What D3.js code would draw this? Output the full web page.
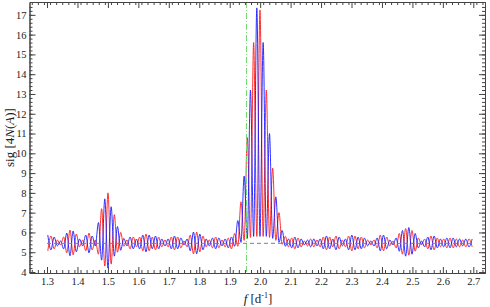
<!DOCTYPE html>
<html>
<head>
<meta charset="utf-8">
<script src="https://cdn.jsdelivr.net/npm/d3@7"></script>
<style>
  body { margin: 0; background: #fff; }
  svg { display: block; font-family: "Liberation Serif", "DejaVu Serif", serif; }
</style>
</head>
<body>
<script>
// extrema positions (frequency, d^-1)
const freqs = [
  1.3026,1.3130,1.3234,1.3338,1.3442,1.3546,1.3650,1.3754,1.3858,1.3962,
  1.4066,1.4170,1.4274,1.4378,1.4482,1.4586,1.4690,1.4794,1.4898,1.5002,
  1.5106,1.5210,1.5314,1.5418,1.5522,1.5626,1.5730,1.5834,1.5938,1.6042,
  1.6146,1.6250,1.6354,1.6458,1.6562,1.6666,1.6770,1.6874,1.6978,1.7082,
  1.7186,1.7290,1.7394,1.7498,1.7602,1.7706,1.7810,1.7914,1.8018,1.8122,
  1.8226,1.8330,1.8434,1.8538,1.8642,1.8746,1.8850,1.8954,1.9058,1.9162,
  1.9266,1.9370,1.9474,1.9578,1.9682,1.9786,1.9890,1.9994,2.0098,2.0202,
  2.0306,2.0410,2.0514,2.0618,2.0722,2.0826,2.0930,2.1034,2.1138,2.1242,
  2.1346,2.1450,2.1554,2.1658,2.1762,2.1866,2.1970,2.2074,2.2178,2.2282,
  2.2386,2.2490,2.2594,2.2698,2.2802,2.2906,2.3010,2.3114,2.3218,2.3322,
  2.3426,2.3530,2.3634,2.3738,2.3842,2.3946,2.4050,2.4154,2.4258,2.4362,
  2.4466,2.4570,2.4674,2.4778,2.4882,2.4986,2.5090,2.5194,2.5298,2.5402,
  2.5506,2.5610,2.5714,2.5818,2.5922,2.6026,2.6130,2.6234,2.6338,2.6442,
  2.6546,2.6650,2.6754,2.6858,2.6962
]

const redSig = [
  5.07,5.82,5.17,5.62,5.37,5.77,4.97,6.12,4.87,5.92,
  5.27,5.62,5.07,5.97,5.12,5.62,4.9,7.2,4.3,8.0,
  4.4,6.9,5.0,6.0,5.3,5.62,5.17,5.77,5.27,5.77,
  5.07,5.92,5.07,5.77,5.12,5.77,5.27,5.62,5.27,5.77,
  5.12,5.77,5.22,5.57,5.27,5.87,4.92,6.02,5.02,5.82,
  5.27,5.62,5.22,5.77,5.22,5.62,5.27,5.72,5.17,5.95,
  5.3,7.55,5.6,10.8,5.75,15.6,5.8,17.25,5.8,13.2,
  5.75,9.25,5.6,7.0,5.4,5.8,5.27,5.72,5.17,5.72,
  5.27,5.57,5.32,5.67,5.27,5.62,5.27,5.77,5.12,5.77,
  5.27,5.82,5.17,5.62,5.27,5.82,5.07,5.82,5.17,5.77,
  5.22,5.62,5.37,5.62,5.22,5.87,5.07,5.77,5.32,5.57,
  5.22,5.95,4.9,6.2,4.85,6.1,5.05,5.72,5.37,5.67,
  5.17,5.82,5.12,5.72,5.27,5.67,5.22,5.72,5.22,5.67,
  5.27,5.62,5.27,5.67,5.27
]

const blueSig = [
  5.87,5.12,5.77,5.32,5.57,5.17,5.97,4.82,6.07,5.02,
  5.67,5.32,5.87,4.97,5.82,5.32,6.5,4.6,7.7,4.2,
  7.3,4.8,6.3,5.1,5.7,5.32,5.77,5.17,5.67,5.17,
  5.87,5.02,5.87,5.17,5.82,5.17,5.67,5.32,5.67,5.17,
  5.82,5.17,5.72,5.37,5.67,5.07,6.02,4.92,5.92,5.12,
  5.67,5.32,5.72,5.17,5.72,5.32,5.67,5.22,5.77,5.3,
  6.6,5.5,8.85,5.7,13.2,5.8,17.35,5.8,15.6,5.8,
  11.0,5.7,7.8,5.5,6.1,5.3,5.67,5.22,5.77,5.22,
  5.67,5.37,5.62,5.27,5.67,5.32,5.67,5.17,5.82,5.17,
  5.67,5.12,5.77,5.32,5.67,5.12,5.87,5.12,5.77,5.17,
  5.72,5.32,5.57,5.32,5.72,5.07,5.87,5.17,5.62,5.37,
  5.72,5.05,6.1,4.8,6.25,4.9,5.95,5.22,5.57,5.27,
  5.77,5.12,5.82,5.22,5.67,5.27,5.72,5.22,5.72,5.27,
  5.67,5.32,5.67,5.27,5.67
]

const xTicks = [1.3, 1.4, 1.5, 1.6, 1.7, 1.8, 1.9, 2.0, 2.1, 2.2, 2.3, 2.4, 2.5, 2.6, 2.7]
const yTicks = [4, 5, 6, 7, 8, 9, 10, 11, 12, 13, 14, 15, 16, 17]
const meanLevel = 5.45
const markFreq = 1.955
const fRange = [1.3, 2.7]

const w = 490
const h = 307
const mLeft = 29.5, mRight = 485, mTop = 2, mBottom = 273
const serif = "'Liberation Serif', 'DejaVu Serif', serif"

const svg = d3.select("body")
  .append("svg")
  .attr("width", w)
  .attr("height", h)

const xScale = d3.scaleLinear()
  .domain([1.2425, 2.7384])
  .range([mLeft, mRight])

const yScale = d3.scaleLinear()
  .domain([3.95, 17.65])
  .range([mBottom, mTop])

// clip for the plot
svg.append("clipPath").attr("id", "clip")
  .append("rect")
  .attr("x", mLeft).attr("y", mTop)
  .attr("width", mRight - mLeft).attr("height", mBottom - mTop)

const plot = svg.append("g").attr("clip-path", "url(#clip)")

const line = d3.line()
  .x(d => xScale(d[0]))
  .y(d => yScale(d[1]))
  .curve(d3.curveMonotoneX)

plot.append("path")
  .datum(freqs.map((f, i) => [f, redSig[i]]))
  .attr("d", line)
  .attr("fill", "none")
  .attr("stroke", "#ff1a1a")
  .attr("stroke-width", 0.9)

plot.append("path")
  .datum(freqs.map((f, i) => [f, blueSig[i]]))
  .attr("d", line)
  .attr("fill", "none")
  .attr("stroke", "#1a1aff")
  .attr("stroke-width", 0.9)

// reference lines
plot.append("line")
  .attr("x1", xScale(fRange[0])).attr("x2", xScale(fRange[1]))
  .attr("y1", yScale(meanLevel)).attr("y2", yScale(meanLevel))
  .attr("stroke", "#808080")
  .attr("stroke-width", 1)
  .attr("stroke-dasharray", "4,3")

plot.append("line")
  .attr("x1", xScale(markFreq)).attr("x2", xScale(markFreq))
  .attr("y1", mTop).attr("y2", mBottom)
  .attr("stroke", "#6fd86f")
  .attr("stroke-width", 1)
  .attr("stroke-dasharray", "6,2,1,2")

// axes - ticks point inward (frame style)
const axisColor = "#444"
const minorX = d3.range(125, 275, 2).map(v => v / 100)
const minorY = d3.range(40, 176, 2).map(v => v / 10)

function styleAxis(g) {
  g.attr("font-family", serif).attr("font-size", 10.5)
  g.select(".domain").attr("stroke", axisColor)
  g.selectAll(".tick line").attr("stroke", axisColor)
  g.selectAll(".tick text").attr("fill", "#222")
}

svg.append("g")
  .attr("transform", "translate(0," + mBottom + ")")
  .call(d3.axisBottom(xScale).tickValues(minorX).tickSize(-3).tickFormat("").tickSizeOuter(0))
  .call(styleAxis)
svg.append("g")
  .attr("transform", "translate(0," + mBottom + ")")
  .call(d3.axisBottom(xScale).tickValues(xTicks).tickSize(-6).tickPadding(5).tickFormat(d3.format(".1f")).tickSizeOuter(0))
  .call(styleAxis)

svg.append("g")
  .attr("transform", "translate(0," + mTop + ")")
  .call(d3.axisTop(xScale).tickValues(minorX).tickSize(-3).tickFormat("").tickSizeOuter(0))
  .call(styleAxis)
svg.append("g")
  .attr("transform", "translate(0," + mTop + ")")
  .call(d3.axisTop(xScale).tickValues(xTicks).tickSize(-6).tickFormat("").tickSizeOuter(0))
  .call(styleAxis)

svg.append("g")
  .attr("transform", "translate(" + mLeft + ",0)")
  .call(d3.axisLeft(yScale).tickValues(minorY).tickSize(-3).tickFormat("").tickSizeOuter(0))
  .call(styleAxis)
svg.append("g")
  .attr("transform", "translate(" + mLeft + ",0)")
  .call(d3.axisLeft(yScale).tickValues(yTicks).tickSize(-6).tickPadding(3).tickSizeOuter(0))
  .call(styleAxis)

svg.append("g")
  .attr("transform", "translate(" + mRight + ",0)")
  .call(d3.axisRight(yScale).tickValues(minorY).tickSize(-3).tickFormat("").tickSizeOuter(0))
  .call(styleAxis)
svg.append("g")
  .attr("transform", "translate(" + mRight + ",0)")
  .call(d3.axisRight(yScale).tickValues(yTicks).tickSize(-6).tickFormat("").tickSizeOuter(0))
  .call(styleAxis)

// axis titles
const xl = svg.append("text")
  .attr("x", 258)
  .attr("y", 303)
  .attr("text-anchor", "middle")
  .style("font-size", "13px")
  .attr("fill", "#222")
xl.append("tspan").style("font-style", "italic").text("f")
xl.append("tspan").text(" [d")
xl.append("tspan").attr("dy", -5).style("font-size", "8px").text("-1")
xl.append("tspan").attr("dy", 5).text("]")

const yl = svg.append("text")
  .attr("transform", "translate(14," + ((mTop + mBottom) / 2) + ") rotate(-90)")
  .attr("text-anchor", "middle")
  .style("font-size", "13px")
  .attr("fill", "#222")
yl.append("tspan").text("sig [4")
yl.append("tspan").style("font-style", "italic").text("N")
yl.append("tspan").text("(")
yl.append("tspan").style("font-style", "italic").text("A")
yl.append("tspan").text(")]")
</script>
</body>
</html>
